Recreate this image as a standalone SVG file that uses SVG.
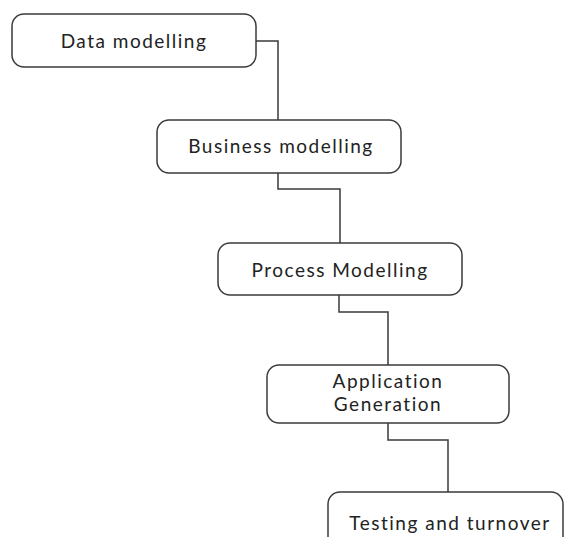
<svg xmlns="http://www.w3.org/2000/svg" width="568" height="537" viewBox="0 0 568 537">
  <style>
    .box { fill: #ffffff; stroke: #3a3a3a; stroke-width: 1.5; }
    .wire { fill: none; stroke: #3a3a3a; stroke-width: 1.5; }
    .label { font-family: Lato, "Open Sans", "Liberation Sans", sans-serif; font-size: 19px; fill: #222222; text-anchor: middle; letter-spacing: 1.5px; }
  </style>
  <rect width="568" height="537" fill="#ffffff"/>

  <g id="connectors">
    <polyline class="wire" points="256,41 278,41 278,120"/>
    <polyline class="wire" points="278,173 278,189 340,189 340,243"/>
    <polyline class="wire" points="339,295 339,312 388,312 388,365"/>
    <polyline class="wire" points="388,423 388,440 448,440 448,492"/>
  </g>

  <g id="data-modelling">
    <rect class="box" x="12" y="14" width="244" height="53" rx="12"/>
    <text class="label" x="134" y="48">Data modelling</text>
  </g>

  <g id="business-modelling">
    <rect class="box" x="157" y="120" width="244" height="53" rx="12"/>
    <text class="label" x="281" y="153">Business modelling</text>
  </g>

  <g id="process-modelling">
    <rect class="box" x="218" y="243" width="244" height="52" rx="12"/>
    <text class="label" x="340" y="277">Process Modelling</text>
  </g>

  <g id="application-generation">
    <rect class="box" x="267" y="365" width="242" height="58" rx="12"/>
    <text class="label" x="388" y="388">Application</text>
    <text class="label" x="388" y="411">Generation</text>
  </g>

  <g id="testing-and-turnover">
    <rect class="box" x="328" y="492" width="235" height="60" rx="12"/>
    <text class="label" x="450" y="530">Testing and turnover</text>
  </g>
</svg>
